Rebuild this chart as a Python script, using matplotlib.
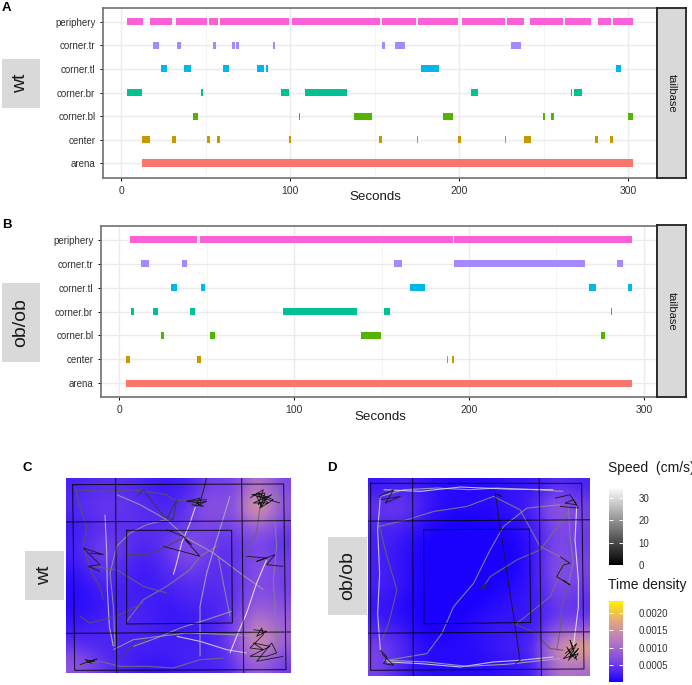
import numpy as np
import matplotlib
matplotlib.use('Agg')
import matplotlib.pyplot as plt
from matplotlib.collections import LineCollection
from matplotlib.colors import LinearSegmentedColormap, Normalize
from matplotlib.cm import ScalarMappable

plt.rcParams['font.family'] = ['Liberation Sans', 'DejaVu Sans']

W, H = 692, 685

zones = ['arena', 'center', 'corner.bl', 'corner.br', 'corner.tl', 'corner.tr', 'periphery']
zone_colors = ['#F8766D', '#C49A00', '#53B400', '#00C094', '#00B6EB', '#A58AFF', '#FB61D7']

# bouts (start, stop) in seconds, wt animal
wt_arena = [(12.6, 302.8)]
wt_center = [(12.6, 17.3), (30.1, 32.3), (51, 52.4), (56.9, 58.7), (99.6, 100.8), (152.8, 154.5),
             (175.1, 175.9), (199, 200.8), (227.3, 227.9), (238.1, 242.3), (280.2, 282), (289.3, 291)]
wt_bl = [(42.7, 45.5), (105.1, 106.1), (137.7, 148.6), (190.5, 196.6), (249.8, 250.8),
         (254.3, 255.9), (299.6, 302.8)]
wt_br = [(3.7, 12.6), (47, 48.4), (94.5, 99.2), (108.9, 110.6), (110.8, 133.6), (206.7, 211.3),
         (266, 267), (267.8, 272.7)]
wt_tl = [(23.8, 27), (37.2, 41.1), (60.4, 63.8), (80.3, 84.3), (86, 87), (177.5, 188.3),
         (292.5, 293.4), (293.6, 295.8)]
wt_tr = [(18.7, 22.2), (33, 35.6), (54.3, 56.1), (65.7, 67.3), (68.1, 69.5), (89.6, 91.3),
         (154.5, 156.1), (161.9, 168.2), (230.6, 236.6)]
wt_periphery = [(3.7, 12.8), (17.1, 30.1), (32.5, 51), (52, 57.3), (58.5, 99.6), (101, 153.2),
                (154.5, 174.7), (175.5, 199.2), (201.6, 227.3), (228.3, 238.3), (242.1, 261.5),
                (262.5, 277.9), (282, 289.5), (291, 302.8)]

# bouts for ob/ob animal
ob_arena = [(3.8, 293.3)]
ob_center = [(3.8, 6.3), (44.4, 46.5), (61, 61.3), (187.2, 187.8), (190.3, 191.6)]
ob_bl = [(23.8, 25.9), (52.2, 55), (138.3, 149.9), (275.2, 277.9)]
ob_br = [(6.9, 8.6), (19.2, 22.1), (40.6, 43.4), (93.5, 136), (151.4, 154.9), (182.7, 183), (281, 281.7)]
ob_tl = [(29.5, 33), (47, 49), (166.3, 174.7), (268.8, 272.8), (291.2, 293.3)]
ob_tr = [(12.4, 16.8), (35.8, 38.9), (157.3, 161.5), (191.6, 266.3), (284.4, 287.8)]
ob_periphery = [(6.3, 44.4), (46.3, 60.9), (61.1, 190.7), (191.4, 293.3)]

wt_bouts = [wt_arena, wt_center, wt_bl, wt_br, wt_tl, wt_tr, wt_periphery]
ob_bouts = [ob_arena, ob_center, ob_bl, ob_br, ob_tl, ob_tr, ob_periphery]

# time density x 1e-4, read on a coarse grid, top row first
wt_density = [[3, 4, 4, 3, 2, 3, 6, 5, 13, 6],
              [4, 5, 5, 4, 3, 5, 9, 6, 21, 8],
              [2, 4, 4, 4, 4, 5, 6, 5, 10, 5],
              [3, 6, 5, 3, 5, 8, 5, 4, 6, 4],
              [2, 5, 4, 2, 4, 6, 4, 4, 8, 6],
              [1, 3, 3, 2, 3, 4, 4, 4, 7, 5],
              [1, 2, 3, 3, 2, 3, 3, 4, 9, 7],
              [2, 3, 4, 3, 2, 2, 3, 5, 14, 9],
              [4, 3, 3, 3, 3, 3, 3, 6, 18, 9],
              [8, 5, 3, 2, 2, 3, 3, 4, 10, 5]]
ob_density = [[2, 3, 2, 1, 1, 1, 2, 2, 4, 3],
              [5, 6, 3, 1, 1, 1, 2, 3, 10, 6],
              [3, 3, 1, 0, 0, 0, 1, 2, 7, 5],
              [3, 2, 0, 0, 0, 0, 0, 2, 7, 5],
              [3, 2, 0, 0, 0, 0, 0, 2, 8, 6],
              [3, 2, 0, 0, 0, 0, 1, 2, 7, 5],
              [2, 1, 0, 0, 0, 1, 2, 2, 5, 4],
              [3, 2, 0, 0, 1, 2, 2, 2, 6, 6],
              [6, 4, 1, 1, 1, 2, 3, 3, 16, 20],
              [6, 3, 1, 1, 1, 1, 2, 2, 12, 10]]

# tracks, points in picture units of each arena image
wt_tracks = [
    [(590, 190), (570, 250), (545, 310), (530, 370), (520, 405)],
    [(315, 225), (320, 340), (322, 450), (328, 560), (340, 620)],
    [(345, 620), (340, 500), (330, 400), (350, 320), (390, 280), (440, 255), (500, 240)],
    [(350, 165), (420, 195), (500, 240), (560, 295), (640, 340), (720, 400), (790, 450)],
    [(800, 360), (770, 430), (740, 520), (710, 590), (690, 640)],
    [(530, 590), (600, 605), (680, 630), (740, 640)],
    [(400, 620), (470, 595), (540, 565), (620, 540), (695, 515)],
    [(380, 545), (430, 480), (500, 440), (570, 390), (600, 350), (650, 320)],
    [(690, 170), (650, 300), (620, 400), (600, 500), (600, 650)],
    [(655, 350), (670, 430), (690, 530)],
    [(240, 675), (300, 665), (360, 680), (440, 680), (520, 685), (600, 660), (670, 655)],
    [(225, 145), (240, 200), (260, 260), (250, 320), (275, 400), (300, 440), (310, 480)],
    [(225, 150), (300, 155), (400, 150), (500, 165), (520, 180), (590, 185)],
    [(830, 150), (825, 250), (830, 320), (820, 420), (825, 500), (830, 600), (820, 650)],
    [(780, 200), (770, 280), (735, 330), (760, 360), (800, 360)],
    [(280, 380), (350, 390), (430, 440), (500, 460)],
    [(240, 530), (270, 550), (350, 530), (430, 490)],
    [(560, 290), (500, 320), (440, 345), (380, 345)],
    [(340, 630), (400, 600), (480, 590), (560, 580), (700, 585), (760, 590)],
    [(365, 655), (390, 620), (440, 600)],
    [(620, 115), (600, 190), (560, 185), (620, 180)],
    [(500, 240), (530, 180), (520, 240), (490, 230), (430, 150), (410, 170)],
]
wt_track_speed = [32, 27, 20, 22, 33, 30, 22, 18, 24, 20, 16, 12, 12, 18, 14, 14, 12, 10, 22, 10, 4, 8]
wt_tangles = [
    [(750, 175), (790, 150), (775, 195), (815, 165), (760, 190), (805, 190), (770, 160), (820, 180),
     (780, 205), (795, 160), (755, 165), (800, 175), (785, 200), (770, 170), (840, 190)],
    [(560, 185), (600, 175), (585, 200), (620, 185), (590, 190), (610, 200), (575, 195)],
    [(760, 570), (800, 575), (770, 590), (785, 565), (790, 585), (750, 625), (790, 630), (760, 610),
     (810, 620), (770, 640), (750, 650), (800, 650), (830, 640), (815, 610), (770, 665), (850, 650)],
    [(240, 675), (290, 658), (260, 668), (285, 665), (255, 660), (275, 672)],
    [(270, 340), (310, 345), (250, 325), (300, 375), (265, 380), (300, 395)],
    [(740, 350), (800, 355), (770, 365), (825, 345), (800, 375), (850, 380)],
    [(500, 270), (550, 290), (575, 315), (555, 300), (600, 350), (490, 320)],
]
ob_tracks = [
    [(180, 170), (250, 150), (350, 145), (450, 150), (530, 145), (640, 150), (730, 155)],
    [(190, 150), (300, 155), (420, 142), (560, 148), (700, 150)],
    [(180, 175), (172, 270), (178, 400), (172, 520), (180, 630)],
    [(175, 250), (200, 350), (230, 450), (205, 550), (185, 600)],
    [(200, 665), (300, 670), (420, 680), (520, 665), (600, 660), (700, 650)],
    [(190, 660), (320, 665), (440, 678), (560, 672), (720, 655)],
    [(175, 260), (260, 240), (340, 215), (440, 200), (520, 170), (600, 210), (660, 320), (730, 355)],
    [(200, 660), (320, 640), (365, 580), (400, 500), (460, 430), (510, 330), (550, 260), (620, 205), (720, 195)],
    [(490, 440), (510, 410), (590, 360), (660, 330), (710, 265), (745, 215)],
    [(770, 200), (765, 300), (775, 420), (775, 500), (760, 620)],
    [(745, 200), (750, 290), (760, 370), (745, 430)],
    [(590, 550), (640, 510), (690, 470), (720, 400), (730, 360)],
    [(580, 550), (640, 575), (690, 625), (730, 630)],
    [(745, 435), (725, 500), (720, 570), (710, 630)],
    [(490, 450), (495, 435), (480, 445), (500, 430)],
]
ob_track_speed = [24, 30, 30, 14, 30, 24, 18, 20, 16, 32, 18, 16, 12, 14, 6]
ob_tangles = [
    [(735, 640), (770, 610), (745, 660), (775, 625), (755, 650), (740, 620), (765, 655), (775, 640),
     (730, 655), (760, 625), (750, 600), (770, 660)],
    [(705, 175), (750, 165), (770, 195), (735, 190), (760, 180), (775, 205), (720, 200)],
    [(720, 350), (750, 370), (730, 375), (710, 410), (750, 435), (730, 420)],
    [(175, 170), (220, 150), (195, 190), (240, 170), (180, 180)],
    [(180, 630), (200, 650), (190, 670), (220, 675), (185, 640)],
    [(530, 165), (545, 170), (525, 160), (600, 660), (585, 670)],
]

speed_ticks = [0, 10, 20, 30]
density_ticks = [0.0005, 0.0010, 0.0015, 0.0020]
density_labels = ['0.0005', '0.0010', '0.0015', '0.0020']

density_cmap = LinearSegmentedColormap.from_list(
    'timedens', ['#1A00FF', '#7A45E8', '#B577C4', '#E2A67F', '#FFF200'])
density_norm = Normalize(0.00002, 0.00233)
speed_norm = Normalize(0, 35)


def px_axes(left, top, right, bottom):
    return fig.add_axes([left / W, 1 - bottom / H, (right - left) / W, (bottom - top) / H])


def px_text(x, y, s, **kw):
    fig.text(x / W, 1 - y / H, s, ha=kw.pop('ha', 'center'), va=kw.pop('va', 'center'), **kw)


def px_box(left, top, right, bottom, label, rotation, size, edge='none'):
    bx = px_axes(left, top, right, bottom)
    bx.set_facecolor('#D9D9D9')
    bx.set_xticks([])
    bx.set_yticks([])
    for s in bx.spines.values():
        s.set_visible(edge != 'none')
        s.set_color(edge)
        s.set_linewidth(1.3)
    bx.text(0.5, 0.5, label, rotation=rotation, fontsize=size, ha='center', va='center',
            transform=bx.transAxes, color='#1a1a1a')


def ethogram(box, bouts, ylim, xlim, bar_h):
    ax = px_axes(*box)
    for i, (spans, col) in enumerate(zip(bouts, zone_colors)):
        h = bar_h * 1.15 if i == 0 else bar_h
        ax.barh([i] * len(spans), [b - a for a, b in spans], left=[a for a, b in spans],
                height=h, color=col, linewidth=0, zorder=3)
    ax.set_yticks(range(7))
    ax.set_yticklabels(zones, fontsize=7, color='#303030')
    ax.set_xticks([0, 100, 200, 300])
    ax.set_xticks([50, 150, 250], minor=True)
    ax.tick_params(axis='x', which='major', labelsize=7.5, length=2.5, width=0.7, labelcolor='#303030', pad=3)
    ax.tick_params(axis='x', which='minor', length=0)
    ax.tick_params(axis='y', length=2.5, width=0.7, pad=3)
    ax.grid(True, which='major', color='#EBEBEB', linewidth=1, zorder=0)
    ax.grid(True, which='minor', axis='x', color='#F2F2F2', linewidth=0.6, zorder=0)
    ax.set_axisbelow(True)
    ax.set_xlim(*xlim)
    ax.set_ylim(*ylim)
    for s in ax.spines.values():
        s.set_color('#707070')
        s.set_linewidth(1.2)
    return ax


def arena(box, density, tracks, speeds, tangles, frame, verticals, horizontals, inner, extent):
    ax = px_axes(*box)
    ax.imshow(np.array(density) * 1e-4, cmap=density_cmap, norm=density_norm, interpolation='bicubic',
              extent=(extent[0], extent[1], extent[3], extent[2]), aspect='auto', zorder=1)
    ax.add_collection(LineCollection(tracks, array=np.array(speeds), cmap='gray', norm=speed_norm,
                                     linewidths=0.8, alpha=0.85, zorder=2))
    ax.add_collection(LineCollection(tangles, colors='#181818', linewidths=0.6, zorder=3))
    for shape in [frame, inner]:
        xs, ys = zip(*(shape + shape[:1]))
        ax.plot(xs, ys, color='black', linewidth=0.7, alpha=0.85, zorder=4)
    for xa, xb in verticals:
        ax.plot([xa, xb], [extent[2], extent[3]], color='black', linewidth=0.7, alpha=0.85, zorder=4)
    for ya, yb in horizontals:
        ax.plot([extent[0], extent[1]], [ya, yb], color='black', linewidth=0.7, alpha=0.85, zorder=4)
    ax.set_xlim(extent[0], extent[1])
    ax.set_ylim(extent[3], extent[2])
    ax.axis('off')


def legend_bar(box, cmap, norm, ticks, labels):
    cax = px_axes(*box)
    cb = fig.colorbar(ScalarMappable(norm=norm, cmap=cmap), cax=cax)
    cb.outline.set_visible(False)
    cb.set_ticks(ticks)
    cb.set_ticklabels(labels)
    cax.tick_params(axis='y', length=3, width=0.7, color='white', direction='in', labelsize=7,
                    labelcolor='#303030', pad=11, left=True, right=True)


fig = plt.figure(figsize=(W / 100, H / 100), dpi=100)

# ethograms
ethogram((103, 8, 657, 178), wt_bouts, (-0.62, 6.58), (-10.7, 317), 0.3)
ethogram((101, 226, 657, 397), ob_bouts, (-0.57, 6.57), (-10.4, 307.5), 0.27)
px_box(657, 8, 686, 178, 'tailbase', -90, 8)
px_box(657, 225, 686, 397, 'tailbase', -90, 8)
ax_edge = '#222222'
fig.axes[-2].spines['left'].set_visible(True)
for bx in fig.axes[-2:]:
    for s in bx.spines.values():
        s.set_visible(True)
        s.set_color(ax_edge)
        s.set_linewidth(1.3)
px_text(375, 197, 'Seconds', fontsize=9.6, color='#1a1a1a')
px_text(380, 417, 'Seconds', fontsize=9.6, color='#1a1a1a')

px_box(2, 59, 40, 108, 'wt', 90, 14)
px_box(2, 283, 40, 362, 'ob/ob', 90, 14)

# arenas
arena((66, 478, 291, 673), wt_density, wt_tracks, wt_track_speed, wt_tangles,
      [(218, 135), (851, 133), (858, 690), (224, 692)],
      [(347, 350), (725, 731)], [(247, 243), (581, 577)],
      [(380, 272), (695, 272), (697, 550), (380, 553)], (198, 873, 115, 700))
arena((368, 478, 590, 676), ob_density, ob_tracks, ob_track_speed, ob_tangles,
      [(151, 131), (785, 131), (792, 686), (151, 690)],
      [(277, 279), (657, 664)], [(244, 240), (579, 575)],
      [(310, 270), (628, 268), (632, 547), (311, 551)], (143, 810, 115, 707))
px_box(25, 551, 64, 600, 'wt', 90, 14)
px_box(328, 537, 367, 615, 'ob/ob', 90, 14)

# legends
px_text(608, 468, 'Speed  (cm/s)', fontsize=10, ha='left', color='#1a1a1a')
legend_bar((609, 487, 623, 565), 'gray', speed_norm, speed_ticks, [str(t) for t in speed_ticks])
px_text(608, 585, 'Time density', fontsize=10, ha='left', color='#1a1a1a')
legend_bar((609, 601, 623, 682), density_cmap, density_norm, density_ticks, density_labels)

# panel letters
px_text(2, 8, 'A', fontsize=9.5, fontweight='bold', ha='left')
px_text(2, 225, 'B', fontsize=9.5, fontweight='bold', ha='left')
px_text(23, 468, 'C', fontsize=9.5, fontweight='bold', ha='left')
px_text(327, 468, 'D', fontsize=9.5, fontweight='bold', ha='left')

fig.savefig('out.png', dpi=100)
